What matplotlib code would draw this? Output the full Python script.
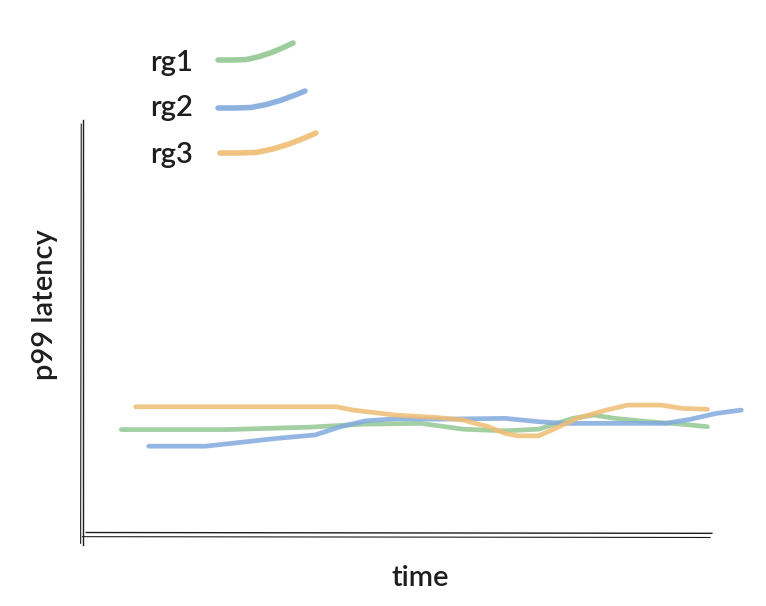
import numpy as np
import matplotlib
matplotlib.use("Agg")
import matplotlib.pyplot as plt

# relative units (time 0-100, latency 0-100)
rg1_t = [5.8, 22.7, 36.2, 44.3, 53.7, 60.5, 67.2, 72.6, 78.0, 81.4, 84.8, 90.2, 95.6, 99.6]
rg1_lat = [25.4, 25.4, 26.0, 26.7, 26.9, 25.5, 25.1, 25.5, 28.1, 28.9, 28.1, 27.3, 26.7, 26.1]

rg2_t = [10.2, 19.3, 26.0, 30.8, 36.8, 40.9, 44.9, 49.7, 56.4, 67.2, 72.6, 76.7, 92.9, 96.9, 101.0, 105.0]
rg2_lat = [21.4, 21.4, 22.5, 23.3, 24.1, 26.1, 27.5, 28.0, 27.9, 28.1, 27.3, 26.9, 26.9, 27.9, 29.3, 30.1]

rg3_t = [8.1, 40.2, 42.9, 49.6, 56.4, 60.5, 64.5, 67.2, 69.2, 72.6, 75.3, 78.7, 83.4, 86.8, 92.2, 95.6, 99.6]
rg3_lat = [30.9, 30.9, 30.1, 28.9, 28.3, 27.7, 26.1, 24.5, 23.9, 23.9, 25.7, 28.1, 30.1, 31.3, 31.3, 30.5, 30.3]

names = ["rg1", "rg2", "rg3"]
colors = ["#93c793", "#82aadd", "#efbd72"]
INK = "#1e1e1e"

plt.rcParams["font.family"] = ["Lato", "DejaVu Sans"]

fig = plt.figure(figsize=(7.66, 6.06), dpi=100)
ax = fig.add_axes([85 / 766, 71 / 606, 625 / 766, 415 / 606])
ax.set_xlim(0, 100)
ax.set_ylim(0, 100)
ax.axis("off")

series = [(rg1_t, rg1_lat), (rg2_t, rg2_lat), (rg3_t, rg3_lat)]
for (t, lat), c in zip(series, colors):
    ax.plot(t, lat, color=c, lw=3.4, alpha=0.85, solid_capstyle="round",
            solid_joinstyle="round", clip_on=False)

# hand drawn axes (double strokes)
ax.plot([-0.003, -0.003], [-0.025, 1.0], color=INK, lw=1.0, transform=ax.transAxes, clip_on=False)
ax.plot([-0.007, -0.006], [-0.02, 0.99], color=INK, lw=0.8, transform=ax.transAxes, clip_on=False)
ax.plot([0.002, 1.003], [0.006, 0.004], color=INK, lw=1.0, transform=ax.transAxes, clip_on=False)
ax.plot([-0.004, 1.0], [-0.004, -0.006], color=INK, lw=0.8, transform=ax.transAxes, clip_on=False)

fig.text(45 / 766, 1 - 305 / 606, "p99 latency", rotation=90, ha="center", va="center",
         fontsize=21, fontweight="semibold", color=INK)
fig.text(420 / 766, 1 - 578 / 606, "time", ha="center", va="center", fontsize=21,
         fontweight="semibold", color=INK)

# sketchy legend: label on the left, a little upturned stroke on the right
shape_x = np.array([0.0, 0.2, 0.38, 0.55, 0.72, 0.88, 1.0])
shape_y = np.array([0.0, 0.0, 0.03, 0.2, 0.45, 0.75, 1.0])
legend_rows = [(172, 63, 218, 60, 75, 17), (172, 108, 218, 108, 87, 17), (172, 155, 220, 153, 96, 20)]
for name, c, (tx, ty, lx, ly, w, h) in zip(names, colors, legend_rows):
    fig.text(tx / 766, 1 - ty / 606, name, ha="center", va="center", fontsize=21,
             fontweight="semibold", color=INK)
    xs = (lx + shape_x * w) / 766
    ys = 1 - (ly - shape_y * h) / 606
    fig.add_artist(plt.Line2D(xs, ys, color=c, lw=4.0, alpha=0.9, solid_capstyle="round",
                              solid_joinstyle="round", transform=fig.transFigure))

fig.savefig("out.png", dpi=100)
